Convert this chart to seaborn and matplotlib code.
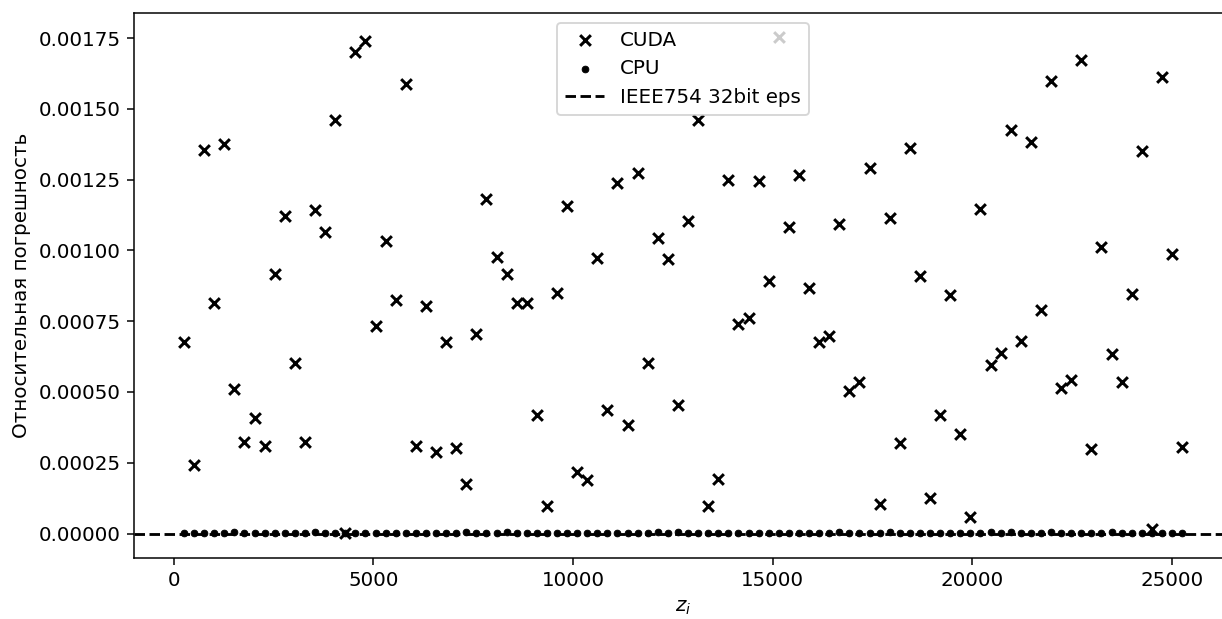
import matplotlib
matplotlib.use("Agg")
import matplotlib.pyplot as plt
import seaborn as sns

# Sample points z_i
z_values = [
    253, 505, 758, 1010, 1263, 1515, 1768, 2020, 2273, 2525,
    2778, 3030, 3283, 3535, 3788, 4040, 4293, 4545, 4798, 5051,
    5303, 5556, 5808, 6061, 6313, 6566, 6818, 7071, 7323, 7576,
    7828, 8081, 8333, 8586, 8838, 9091, 9343, 9596, 9848, 10101,
    10354, 10606, 10859, 11111, 11364, 11616, 11869, 12121, 12374, 12626,
    12879, 13131, 13384, 13636, 13889, 14141, 14394, 14646, 14899, 15152,
    15404, 15657, 15909, 16162, 16414, 16667, 16919, 17172, 17424, 17677,
    17929, 18182, 18434, 18687, 18939, 19192, 19444, 19697, 19949, 20202,
    20455, 20707, 20960, 21212, 21465, 21717, 21970, 22222, 22475, 22727,
    22980, 23232, 23485, 23737, 23990, 24242, 24495, 24747, 25000, 25253,
]

# Relative error of the GPU (float32) computation
cuda_error = [
    0.000677, 0.000242, 0.001354, 0.000813, 0.001376, 0.000512, 0.000323, 0.000407, 0.000308, 0.000915,
    0.001121, 0.000604, 0.000325, 0.001141, 0.001066, 0.001461, 0.0000025, 0.001702, 0.001741, 0.000734,
    0.001033, 0.000824, 0.001586, 0.000308, 0.000803, 0.000288, 0.000677, 0.000301, 0.000174, 0.000706,
    0.001182, 0.000975, 0.000915, 0.000816, 0.000816, 0.000417, 0.000099, 0.000849, 0.001157, 0.000216,
    0.000188, 0.000973, 0.000437, 0.001239, 0.000382, 0.001272, 0.000602, 0.001044, 0.000969, 0.000454,
    0.001103, 0.001460, 0.000097, 0.000191, 0.001248, 0.000740, 0.000761, 0.001245, 0.000893, 0.001752,
    0.001084, 0.001265, 0.000866, 0.000676, 0.000699, 0.001094, 0.000504, 0.000536, 0.001290, 0.000106,
    0.001113, 0.000320, 0.001360, 0.000909, 0.000124, 0.000419, 0.000843, 0.000351, 0.000059, 0.001147,
    0.000596, 0.000637, 0.001427, 0.000679, 0.001382, 0.000788, 0.001597, 0.000513, 0.000542, 0.001671,
    0.000300, 0.001012, 0.000634, 0.000536, 0.000846, 0.001352, 0.0000166, 0.001611, 0.000987, 0.000307,
]

# Relative error of the CPU computation
cpu_error = [
    3e-7, 3e-7, 3e-7, 3e-7, 3e-7, 5e-6, 3e-7, 3e-7, 3e-7, 3e-7,
    3e-7, 3e-7, 3e-7, 5e-6, 3e-7, 3e-7, 3e-7, 3e-7, 3e-7, 3e-7,
    3e-7, 3e-7, 3e-7, 3e-7, 3e-7, 3e-7, 3e-7, 3e-7, 5e-6, 3e-7,
    3e-7, 3e-7, 5e-6, 3e-7, 3e-7, 3e-7, 3e-7, 3e-7, 3e-7, 3e-7,
    3e-7, 3e-7, 3e-7, 3e-7, 3e-7, 3e-7, 3e-7, 5e-6, 3e-7, 5e-6,
    3e-7, 3e-7, 3e-7, 3e-7, 3e-7, 3e-7, 3e-7, 3e-7, 3e-7, 3e-7,
    3e-7, 3e-7, 3e-7, 3e-7, 3e-7, 5e-6, 3e-7, 3e-7, 3e-7, 3e-7,
    5e-6, 3e-7, 3e-7, 3e-7, 3e-7, 3e-7, 3e-7, 3e-7, 3e-7, 3e-7,
    5e-6, 3e-7, 5e-6, 3e-7, 3e-7, 3e-7, 5e-6, 3e-7, 3e-7, 3e-7,
    3e-7, 3e-7, 5e-6, 3e-7, 3e-7, 3e-7, 3e-7, 3e-7, 3e-7, 3e-7,
]

float32_eps = 1.1920929e-07

plt.rcParams["font.size"] = 10.5

DPI = 136
fig = plt.figure(figsize=(1222 / DPI, 619 / DPI), dpi=DPI)
ax = fig.add_axes([0.1097, 0.0981, 0.8985, 0.8814])

sns.scatterplot(x=z_values, y=cuda_error, marker="x", color="black",
                s=32, linewidth=1.6, label="CUDA", ax=ax)
sns.scatterplot(x=z_values, y=cpu_error, marker=".", color="black",
                s=50, edgecolor="black", linewidth=0.5, label="CPU", ax=ax)
ax.axhline(float32_eps, color="black", linestyle="--", label="IEEE754 32bit eps")

ax.set_xlabel("$z_i$")
ax.set_ylabel("Относительная погрешность")
ax.legend(loc="upper center")

fig.savefig("out.png", dpi=DPI)
